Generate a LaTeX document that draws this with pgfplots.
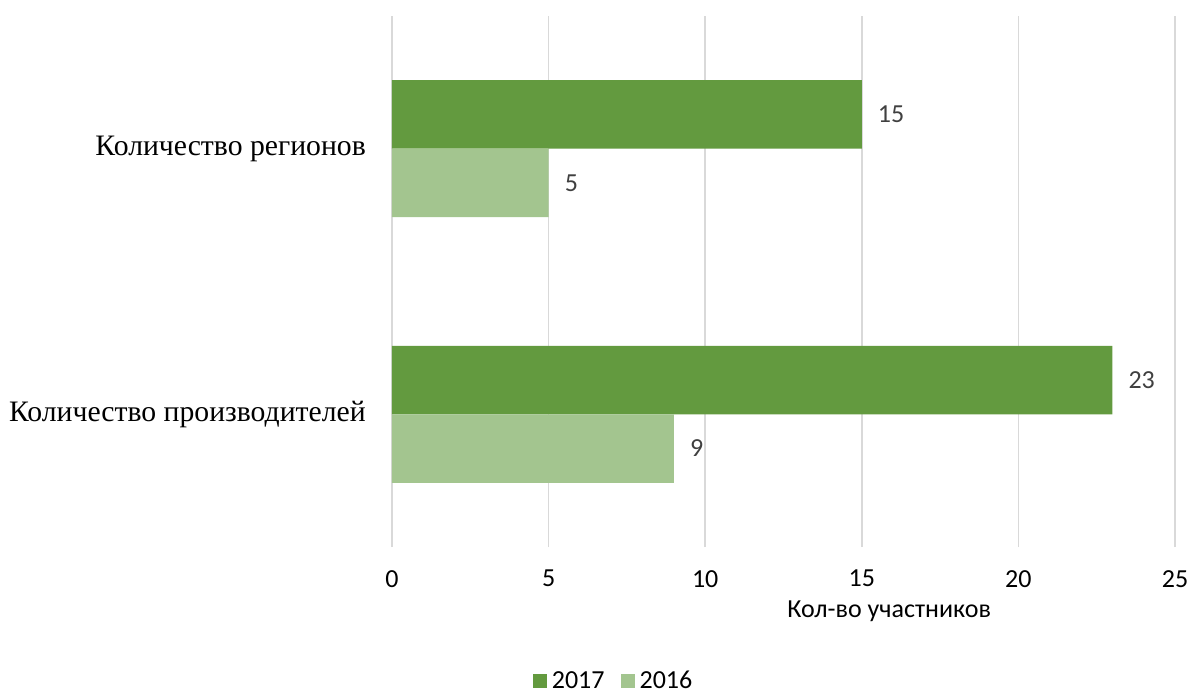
\documentclass[border=0pt]{standalone}
\usepackage{pgfplots}
\pgfplotsset{compat=1.18}
\usepackage{fontspec}
\setmainfont{Carlito}
\newfontfamily\seriffont{Liberation Serif}
\definecolor{dkgreen}{HTML}{639A3F}
\definecolor{ltgreen}{HTML}{A3C58F}
\definecolor{gridgray}{HTML}{D9D9D9}
\definecolor{lblgray}{HTML}{404040}
\begin{document}
\begin{tikzpicture}
\useasboundingbox (-392bp,-148bp) rectangle (797bp,547bp);
\begin{axis}[
  scale only axis,
  width=783bp, height=531bp,
  xmin=0, xmax=25,
  ymin=-0.5, ymax=1.5,
  xtick={0,5,10,15,20,25},
  ytick={0,1},
  yticklabels={Количество производителей, Количество регионов},
  axis line style={draw=none},
  major tick length=0pt,
  xmajorgrids,
  grid style={gridgray, line width=1.6bp},
  /pgf/number format/assume math mode=true,
  xticklabel style={font=\fontsize{26bp}{31bp}\selectfont, anchor=north, inner sep=0pt, yshift=-23bp},
  yticklabel style={font=\seriffont\fontsize{29.7bp}{36bp}\selectfont, anchor=east, inner sep=0pt, xshift=-26bp},
  xbar, bar width=0.258,
  nodes near coords,
  nodes near coords style={font=\fontsize{26bp}{31bp}\selectfont, color=lblgray, anchor=west, inner sep=0pt, xshift=16bp},
  legend style={at={(0.283,-0.252)}, anchor=center, legend columns=2, draw=none, fill=none,
    font=\fontsize{26bp}{31bp}\selectfont, inner sep=0pt,
    /tikz/every odd column/.append style={column sep=3bp},
    /tikz/every even column/.append style={column sep=14bp}},
  legend image code/.code={\fill[#1] (0bp,-7bp) rectangle (14bp,7bp);},
  clip=false,
]
\addplot[fill=dkgreen, draw=none, bar shift=0.129] coordinates {(23,0) (15,1)};
\addlegendentry{2017}
\addplot[fill=ltgreen, draw=none, bar shift=-0.129] coordinates {(9,0) (5,1)};
\addlegendentry{2016}
\node[anchor=north, inner sep=0pt, font=\fontsize{26bp}{31bp}\selectfont] at (rel axis cs:0.635,0) [yshift=-54bp] {Кол-во участников};
\end{axis}
\end{tikzpicture}
\end{document}
